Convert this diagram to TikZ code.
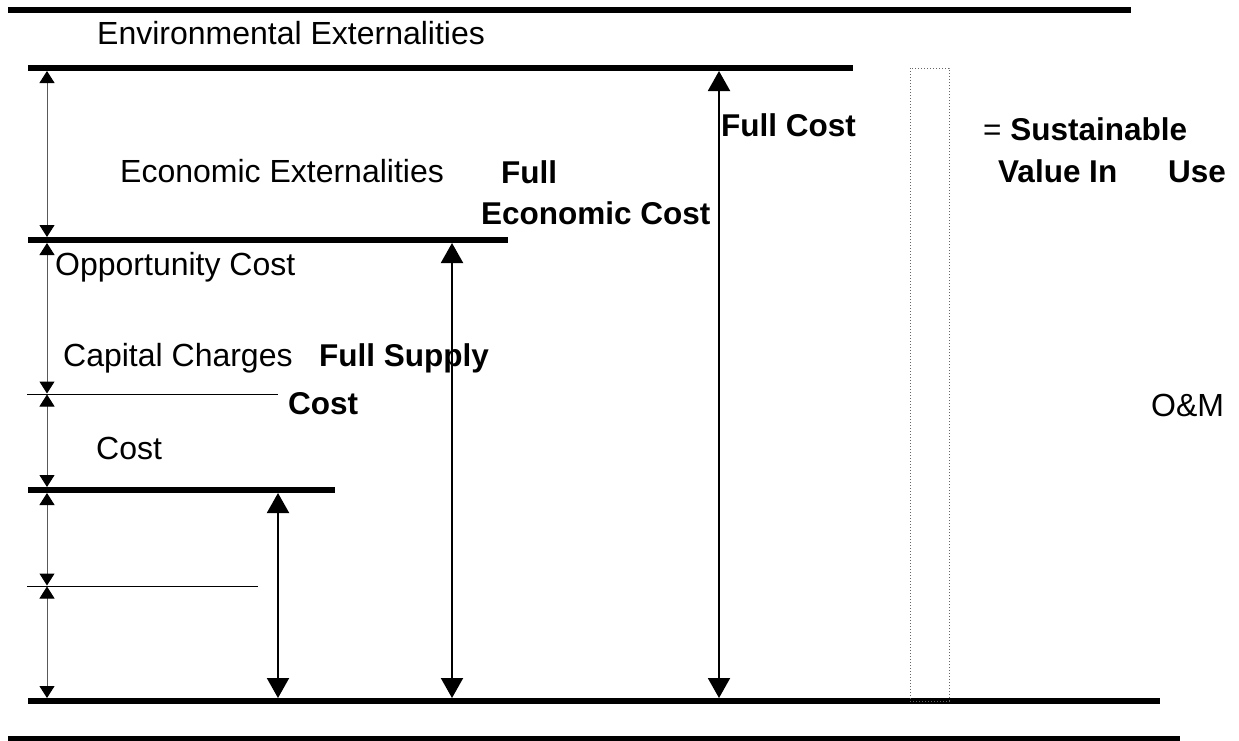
\documentclass[tikz,border=0pt]{standalone}
\usepackage{fontspec}
\setmainfont{Liberation Sans}
\usetikzlibrary{positioning}
\usetikzlibrary{calc}
\usetikzlibrary{arrows.meta}
\tikzset{>=latex}
\tikzset{level/.style={draw, line width=6pt}}
\tikzset{sublevel/.style={draw, line width=1pt}}
\tikzset{dim/.style={draw=black!65, line width=1pt,
    {Triangle[width=15pt,length=12pt,color=black]}-{Triangle[width=15pt,length=12pt,color=black]}}}
\tikzset{total/.style={draw, line width=2pt,
    {Triangle[width=22pt,length=20pt]}-{Triangle[width=22pt,length=20pt]}}}
\tikzset{cost/.style={font=\fontsize{32}{37}\selectfont, inner sep=0pt, anchor=base west}}
\tikzset{costbold/.style={cost, font=\fontsize{31.5}{37}\selectfont\bfseries}}
\tikzset{valuebar/.style={draw=black!60, dotted, line width=1pt}}

\begin{document}
\begin{tikzpicture}[x=1pt, y=-1pt]
    \useasboundingbox (0,0) rectangle (1239,740);

    % ------- Start Levels ------- %
    \coordinate (envL) at (8,10);     \coordinate (envR) at (1131,10);
    \coordinate (fullL) at (28,68);   \coordinate (fullR) at (853,68);
    \coordinate (econL) at (28,240);  \coordinate (econR) at (508,240);
    \coordinate (capL) at (27,394);   \coordinate (capR) at (278,394);
    \coordinate (supL) at (28,490);   \coordinate (supR) at (335,490);
    \coordinate (omL) at (27,586);    \coordinate (omR) at (258,586);
    \coordinate (baseL) at (28,701);  \coordinate (baseR) at (1160,701);
    \coordinate (endL) at (8,739);    \coordinate (endR) at (1180,739);

    \draw [level] (envL) -- (envR);
    \draw [level] (fullL) -- (fullR);
    \draw [level] (econL) -- (econR);
    \draw [sublevel] (capL) -- (capR);
    \draw [level] (supL) -- (supR);
    \draw [sublevel] (omL) -- (omR);
    \draw [level] (baseL) -- (baseR);
    \draw [level] (endL) -- (endR);
    % ------- End Levels ------- %

    % The small arrows along the left side.
    \coordinate (dimx) at (47,0);
    \draw [dim, shorten <=3pt, shorten >=3pt] (dimx |- fullL) -- (dimx |- econL);
    \draw [dim, shorten <=3pt, shorten >=0.5pt] (dimx |- econL) -- (dimx |- capL);
    \draw [dim, shorten <=0.5pt, shorten >=3pt] (dimx |- capL) -- (dimx |- supL);
    \draw [dim, shorten <=3pt, shorten >=0.5pt] (dimx |- supL) -- (dimx |- omL);
    \draw [dim, shorten <=0.5pt, shorten >=3pt] (dimx |- omL) -- (dimx |- baseL);

    % The totals down to the base.
    \coordinate (supx) at (278,0);
    \coordinate (econx) at (452,0);
    \coordinate (fullx) at (719,0);
    \draw [total, shorten <=3pt, shorten >=3pt] (supx |- supL) -- (supx |- baseL);
    \draw [total, shorten <=3pt, shorten >=3pt] (econx |- econL) -- (econx |- baseL);
    \draw [total, shorten <=3pt, shorten >=3pt] (fullx |- fullL) -- (fullx |- baseL);

    % The dotted bar for the value in use.
    \draw [valuebar] (910,68) rectangle (949,701);

    % ------- Start Labels ------- %
    \node [cost] (envText) at (97,44) {Environmental Externalities};
    \node [cost] (econText) at (120,182) {Economic Externalities};
    \node [costbold] (fullEcon1) at (501,183) {Full};
    \node [costbold] (fullEcon2) at (481,224) {Economic Cost};
    \node [costbold] (fullCost) at (721,136) {Full Cost};
    \node [costbold] (svu1) at (983,140) {{\mdseries =} Sustainable};
    \node [costbold] (svu2) at (998,182) {Value In};
    \node [costbold] (svu3) at (1168,182) {Use};
    \node [cost] (oppText) at (55,275) {Opportunity Cost};
    \node [cost] (capText) at (63,366) {Capital Charges};
    \node [costbold] (fullSup1) at (319,366) {Full Supply};
    \node [costbold] (fullSup2) at (288,414) {Cost};
    \node [cost] (omText) at (1151,416) {O\&M};
    \node [cost] (omCost) at (96,459) {Cost};
    % ------- End Labels ------- %
\end{tikzpicture}
\end{document}
